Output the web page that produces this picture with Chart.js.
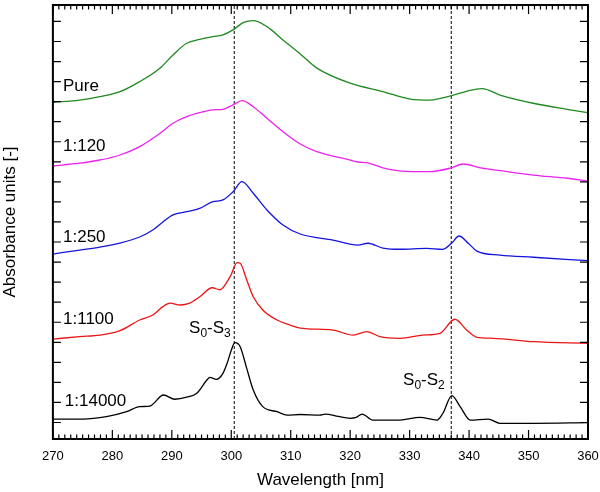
<!DOCTYPE html>
<html>
<head>
<meta charset="utf-8">
<script src="https://cdn.jsdelivr.net/npm/chart.js@4.4.1/dist/chart.umd.min.js"></script>
<style>
    html, body { margin: 0; padding: 0; background: #fff; }
    #myCanvas { display: block; }
</style>
</head>
<body>
<canvas id="myCanvas" width="600" height="492"></canvas>
<script>
// spectra (nm, arbitrary absorbance units, offset per sample)
const pureNm = [270, 274.5, 277.9, 281.3, 284.6, 288.0, 290.2, 292.5, 294.7, 296.9, 298.6, 300.3, 302.0, 303.7, 306.0, 308.7, 311.6, 314.4, 320.0, 325.5, 330.1, 333.4, 337.1, 339.7, 342.2, 345.2, 350.8, 356.5, 360];
const pureAbs = [15.97, 16.08, 16.25, 16.50, 17.00, 17.67, 18.33, 18.91, 19.11, 19.24, 19.33, 19.58, 19.94, 20.04, 19.74, 19.08, 18.38, 17.67, 16.92, 16.50, 16.13, 16.08, 16.30, 16.53, 16.65, 16.33, 15.92, 15.62, 15.45];

const r120Nm = [270, 274.5, 277.9, 281.3, 284.6, 288.0, 290.2, 292.5, 294.7, 296.9, 298.6, 300.3, 301.8, 303.7, 306.0, 308.7, 311.6, 314.4, 320.0, 321.3, 323.0, 325.5, 330.1, 333.4, 336.8, 339.0, 342.2, 345.2, 350.8, 356.5, 360];
const r120Abs = [12.79, 12.93, 13.09, 13.34, 13.76, 14.42, 14.92, 15.25, 15.45, 15.59, 15.62, 15.84, 16.05, 15.75, 15.17, 14.50, 13.89, 13.51, 13.09, 12.99, 12.95, 12.70, 12.51, 12.51, 12.68, 12.89, 12.68, 12.56, 12.34, 12.18, 12.04];

const r250Nm = [270, 274.5, 277.9, 281.3, 284.6, 286.8, 288.5, 290.2, 292.5, 294.7, 296.9, 298.6, 300.3, 301.8, 303.7, 306.0, 308.7, 311.6, 317.1, 321.3, 323.0, 325.5, 328.4, 332.9, 335.5, 337.1, 338.3, 340.0, 341.3, 345.2, 350.8, 360];
const r250Abs = [8.40, 8.60, 8.75, 8.95, 9.25, 9.60, 10.00, 10.35, 10.51, 10.68, 11.01, 11.10, 11.51, 12.01, 11.43, 10.60, 9.85, 9.40, 9.10, 8.85, 8.94, 8.70, 8.64, 8.68, 8.63, 8.95, 9.30, 8.90, 8.55, 8.35, 8.24, 8.07];

const r1100Nm = [270, 274.5, 277.9, 281.3, 284.6, 286.8, 288.5, 289.7, 291.4, 293.0, 294.7, 296.8, 298.1, 299.8, 301.0, 301.5, 302.6, 303.7, 305.3, 307.7, 309.9, 311.6, 317.1, 320.5, 322.8, 325.0, 328.4, 332.2, 335.1, 337.6, 339.6, 341.3, 344.0, 350.8, 360];
const r1100Abs = [4.16, 4.28, 4.36, 4.58, 5.11, 5.36, 5.78, 5.95, 5.86, 5.95, 6.27, 6.72, 6.62, 7.27, 7.97, 7.94, 7.11, 6.27, 5.61, 5.11, 4.86, 4.71, 4.61, 4.36, 4.53, 4.28, 4.20, 4.36, 4.45, 5.15, 4.61, 4.25, 4.20, 4.03, 3.95];

const r14000Nm = [270, 275.0, 279.0, 282.4, 284.6, 286.3, 288.6, 290.5, 292.5, 294.2, 295.9, 296.4, 297.5, 298.6, 299.3, 300.0, 300.6, 301.5, 302.6, 303.7, 305.3, 307.7, 309.4, 311.6, 314.9, 315.8, 318.0, 320.0, 321.0, 322.0, 323.8, 328.4, 331.7, 334.6, 335.6, 337.1, 338.5, 340.2, 343.2, 345.2, 350.8, 360];
const r14000Abs = [0.17, 0.17, 0.29, 0.54, 0.79, 0.82, 1.37, 1.16, 1.26, 1.46, 2.12, 2.25, 2.15, 2.45, 2.95, 3.60, 3.98, 3.78, 2.70, 1.62, 0.79, 0.54, 0.37, 0.40, 0.37, 0.42, 0.30, 0.21, 0.25, 0.42, 0.12, 0.12, 0.26, 0.12, 0.46, 1.34, 0.79, 0.12, 0.17, -0.04, -0.04, -0.01];

const sampleNames = ["Pure", "1:120", "1:250", "1:1100", "1:14000"];
const transitionNm = [300.5, 337.0];
const xTickLabels = [270, 280, 290, 300, 310, 320, 330, 340, 350, 360];

const yMin = -0.823;
const yMax = 20.82;
const fontFamily = "'Liberation Sans', Arial, sans-serif";

const spectra = [
    [pureNm, pureAbs, "#1f8a1f"],
    [r120Nm, r120Abs, "#ee22ee"],
    [r250Nm, r250Abs, "#1414dc"],
    [r1100Nm, r1100Abs, "#ea1515"],
    [r14000Nm, r14000Abs, "#000000"]
];

const toPoints = (xs, ys) => xs.map((v, i) => ({ x: v, y: ys[i] }));

const datasets = spectra.map(([xs, ys, color], i) => ({
    label: sampleNames[i],
    data: toPoints(xs, ys),
    borderColor: color,
    borderWidth: 1.3,
    pointRadius: 0,
    cubicInterpolationMode: "monotone",
    fill: false
}));

transitionNm.forEach(nm => {
    datasets.push({
        label: "transition",
        data: [{ x: nm, y: yMin }, { x: nm, y: yMax }],
        borderColor: "#000",
        borderWidth: 1,
        borderDash: [3, 2],
        pointRadius: 0
    });
});

// text placement in data coordinates
const sampleLabelPos = [[271.7, 16.55], [271.7, 13.56], [271.7, 9.02], [271.7, 4.91], [272.0, 0.82]];

function drawState(ctx, px, py, sub1, sub2) {
    const big = "17px " + fontFamily;
    const small = "12px " + fontFamily;
    let cx = px;
    const part = (txt, font, dy) => {
        ctx.font = font;
        ctx.fillText(txt, cx, py + dy);
        cx += ctx.measureText(txt).width;
    };
    part("S", big, 0);
    part(sub1, small, 4);
    part("-S", big, 0);
    part(sub2, small, 4);
}

const decor = {
    id: "decor",
    afterDatasetsDraw(chart) {
        const ctx = chart.ctx;
        const a = chart.chartArea;
        const x = chart.scales.x;
        const y = chart.scales.y;
        ctx.save();
        ctx.strokeStyle = "#000";
        ctx.lineWidth = 2;
        ctx.strokeRect(a.left, a.top, a.right - a.left, a.bottom - a.top);

        ctx.lineWidth = 1.2;
        ctx.beginPath();
        for (let nm = 270; nm <= 360; nm++) {
            const px = x.getPixelForValue(nm);
            const len = nm % 10 === 0 ? 9 : 4.5;
            ctx.moveTo(px, a.bottom);
            ctx.lineTo(px, a.bottom - len);
            ctx.moveTo(px, a.top);
            ctx.lineTo(px, a.top + len);
        }
        for (let v = 0; v <= 20; v++) {
            const py = y.getPixelForValue(v);
            ctx.moveTo(a.left, py);
            ctx.lineTo(a.left + 8, py);
            ctx.moveTo(a.right, py);
            ctx.lineTo(a.right - 8, py);
        }
        ctx.stroke();

        ctx.fillStyle = "#000";
        ctx.font = "13px " + fontFamily;
        ctx.textAlign = "center";
        ctx.textBaseline = "middle";
        xTickLabels.forEach(t => ctx.fillText(String(t), x.getPixelForValue(t), a.bottom + 17));

        ctx.textAlign = "left";
        ctx.textBaseline = "alphabetic";
        ctx.font = "17px " + fontFamily;
        sampleNames.forEach((name, i) => {
            const [nm, v] = sampleLabelPos[i];
            ctx.fillText(name, x.getPixelForValue(nm), y.getPixelForValue(v));
        });

        drawState(ctx, x.getPixelForValue(292.9), y.getPixelForValue(4.46), "0", "3");
        drawState(ctx, x.getPixelForValue(328.9), y.getPixelForValue(1.87), "0", "2");
        ctx.restore();
    }
};

const canvas = document.getElementById("myCanvas");
const ctx = canvas.getContext("2d");

var chart = new Chart(ctx, {
    type: "line",
    data: { datasets: datasets },
    options: {
        responsive: false,
        animation: false,
        layout: {
            padding: { top: 5, left: 0, bottom: 1, right: 12 }
        },
        plugins: {
            legend: { display: false },
            tooltip: { enabled: false }
        },
        scales: {
            x: {
                type: "linear",
                min: 270,
                max: 360,
                grid: { display: false, drawTicks: false },
                border: { display: false },
                ticks: { display: false, stepSize: 10 },
                title: {
                    display: true,
                    text: "Wavelength [nm]",
                    color: "#000",
                    font: { family: fontFamily, size: 17 },
                    padding: { top: 31.6, bottom: 0 }
                }
            },
            y: {
                type: "linear",
                min: yMin,
                max: yMax,
                grid: { display: false, drawTicks: false },
                border: { display: false },
                ticks: { display: false },
                title: {
                    display: true,
                    text: "Absorbance units [-]",
                    color: "#000",
                    font: { family: fontFamily, size: 17 },
                    padding: { top: 0.5, bottom: 32 }
                }
            }
        }
    },
    plugins: [decor]
});
</script>
</body>
</html>
